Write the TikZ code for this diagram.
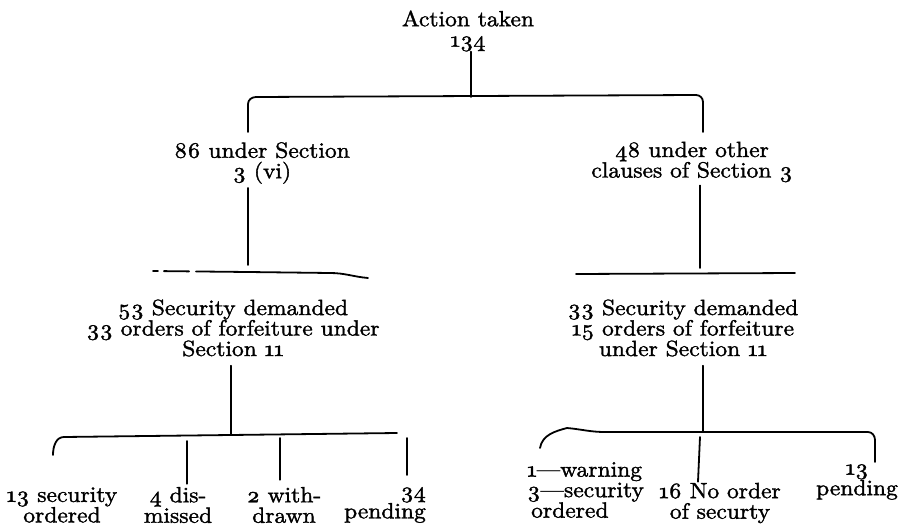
\documentclass[tikz,border=0pt]{standalone}
\usepackage{tikz}
\font\treefont="[lmroman10-regular.otf]:mapping=tex-text;extend=1.07;embolden=1.6" at 22pt
\font\treenum="[lmroman10-regular.otf]:+onum;extend=1.07;embolden=1.6" at 22pt
\newcommand{\on}[1]{{\treenum #1}}

\begin{document}
\begin{tikzpicture}[x=1pt,y=-1pt,
    lbl/.style={font=\fontsize{22}{20.5}\selectfont\treefont, align=center, inner sep=0pt},
    rule/.style={line width=1.8pt, line cap=round}]
    \useasboundingbox (0,0) rectangle (905,527);
    % Top of the tree
    \node[lbl] (taken) at (468, 31) {Action taken\\\on{134}};
    % Second level
    \node[lbl] (sixvi) at (262, 163) {\on{86} under Section\\\on{3} (vi)};
    \node[lbl] (other) at (692, 162) {\on{48} under other\\clauses of Section \on{3}};
    % Third level
    \node[lbl] (secl) at (233, 328) {\on{53} Security demanded\\\on{33} orders of forfeiture under\\Section \on{11}};
    \node[lbl] (secr) at (683, 328) {\on{33} Security demanded\\\on{15} orders of forfeiture\\under Section \on{11}};
    % Outcomes, left
    \node[lbl] (ordl) at (62, 505) {\on{13} security\\ordered};
    \node[lbl] (dism) at (178, 505) {\on{4} dis-\\missed};
    \node[lbl] (wdrw) at (284, 505) {\on{2} with-\\drawn};
    \node[lbl, align=right] (pendl) at (385, 505) {\on{34}\\pending};
    % Outcomes, right
    \node[lbl, align=left, anchor=west] (warn) at (527, 490) {\on{1}---warning\\\on{3}---security\\\hspace{4pt}ordered};
    \node[lbl] (noord) at (720, 503) {\on{16} No order\\of securty};
    \node[lbl] (pendr) at (857, 482) {\on{13}\\pending};
    %
    % Bracket points
    \coordinate (ta) at (471, 97);
    \coordinate (sl) at (248, 272);
    \coordinate (sr) at (700, 273);
    \coordinate (bl) at (231, 435);
    \coordinate (br) at (703, 432);
    %
    % Action taken -> both sections
    \draw[rule] (taken.south -| ta) -- (ta);
    \draw[rule] (248, 132) -- (248, 104) to[out=90, in=180] (256, 97)
        -- (696, 95) to[out=0, in=90] (703, 102) -- (703, 132);
    % Section 3 (vi) -> security demanded
    \draw[rule] ([yshift=-4pt]sixvi.south -| sl) -- ([yshift=7pt]sl);
    \draw[rule, dash pattern=on 5pt off 6pt on 25pt off 7pt on 400pt]
        (153, 271) -- (248, 272) -- (330, 273) to[out=0, in=175] (368, 278);
    % Other clauses -> security demanded
    \draw[rule] ([yshift=-3pt]other.south -| sr) -- ([yshift=5pt]sr);
    \draw[rule] (576, 274) -- (795, 273);
    % Left outcomes
    \draw[rule] ([yshift=-9pt]secl.south -| bl) -- (bl);
    \draw[rule] (53, 455) to[out=90, in=180] (64, 437) -- (397, 433);
    \draw[rule] ([yshift=3pt]dism.north -| 187,0) -- (187, 441);
    \draw[rule] ([yshift=7pt]wdrw.north -| 280,0) -- (280, 438);
    \draw[rule] ([yshift=12pt]pendl.north -| 407,0) -- (407, 438);
    % Right outcomes
    \draw[rule] ([yshift=-9pt]secr.south -| br) -- (br);
    \draw[rule] (540, 448) to[out=80, in=195] (567, 428) to[out=-5, in=180] (605, 432)
        -- (868, 432) to[out=0, in=90] (875, 440) -- (875, 462);
    \draw[rule] ([shift={(-3pt,-5pt)}]br) -- ([yshift=1pt]noord.north -| 698,0);
\end{tikzpicture}
\end{document}
